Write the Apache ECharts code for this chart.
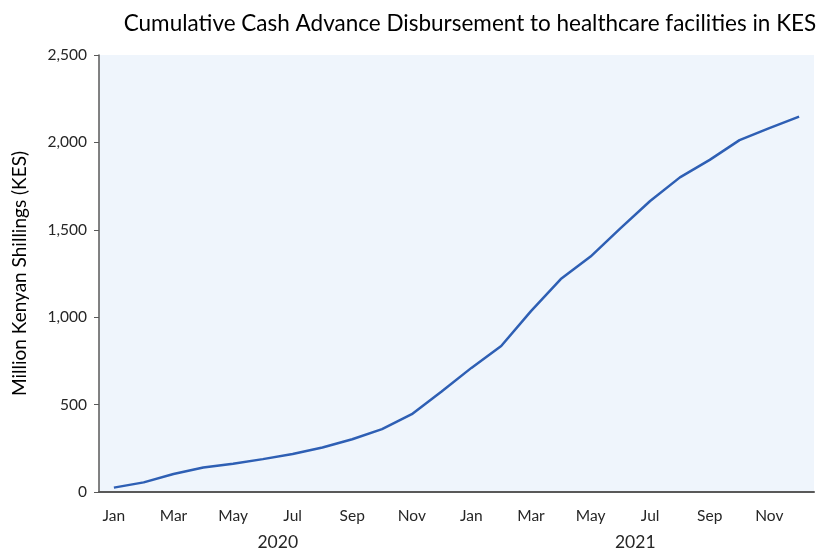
<!DOCTYPE html>
<html>
<head>
<meta charset="utf-8">
<script src="https://cdn.jsdelivr.net/npm/echarts@6/dist/echarts.min.js"></script>
<style>
  html, body { margin: 0; padding: 0; background: #fff; }
  #chart { width: 829px; height: 551px; }
</style>
</head>
<body>
<div id="chart"></div>
<script>
var months = ['Jan', 'Feb', 'Mar', 'Apr', 'May', 'Jun', 'Jul', 'Aug', 'Sep', 'Oct', 'Nov', 'Dec',
              'Jan', 'Feb', 'Mar', 'Apr', 'May', 'Jun', 'Jul', 'Aug', 'Sep', 'Oct', 'Nov', 'Dec'];
var years = ['2020', '2021'];
// cumulative disbursement, million KES
var cumulative = [25, 55, 103, 140, 162, 188, 217, 255, 302, 360, 445, 575,
                  710, 835, 1035, 1218, 1347, 1508, 1665, 1800, 1900, 2013, 2082, 2147];
var yTicks = [0, 500, 1000, 1500, 2000, 2500];

var chart = echarts.init(document.getElementById('chart'));
var fontFam = 'Lato, "Open Sans", sans-serif';

var option = {
    backgroundColor: '#fff',
    animation: false,
    title: {
        text: 'Cumulative Cash Advance Disbursement to healthcare facilities in KES',
        left: 465,
        top: 7,
        textAlign: 'center',
        textStyle: { fontFamily: fontFam, fontSize: 22.5, fontWeight: 'normal', color: '#000' }
    },
    grid: {
        left: 99, right: 15, top: 55, bottom: 58,
        show: true,
        backgroundColor: '#eff5fc',
        borderWidth: 0
    },
    xAxis: [{
        type: 'category',
        data: months,
        boundaryGap: true,
        axisLine: { show: true, lineStyle: { color: '#595959', width: 2 } },
        axisTick: { show: false },
        axisLabel: {
            interval: 1,
            margin: 16,
            fontFamily: fontFam, fontSize: 15.5, color: '#262626'
        },
        splitLine: { show: false }
    }, {
        type: 'category',
        data: years,
        position: 'bottom',
        boundaryGap: true,
        axisLine: { show: false },
        axisTick: { show: false },
        axisLabel: {
            margin: 41,
            fontFamily: fontFam, fontSize: 17.5, color: '#262626'
        },
        splitLine: { show: false }
    }],
    yAxis: {
        type: 'value',
        min: yTicks[0],
        max: yTicks[yTicks.length - 1],
        interval: 500,
        name: 'Million Kenyan Shillings (KES)',
        nameLocation: 'middle',
        nameGap: 70,
        nameTextStyle: { fontFamily: fontFam, fontSize: 19, color: '#000' },
        axisLine: { show: true, lineStyle: { color: '#595959', width: 1.5 } },
        axisTick: { show: true, length: 5, lineStyle: { color: '#595959' } },
        axisLabel: {
            margin: 12,
            fontFamily: fontFam, fontSize: 15.5, color: '#262626',
            formatter: function (v) { return v.toLocaleString('en-US'); }
        },
        splitLine: { show: false }
    },
    series: [{
        type: 'line',
        xAxisIndex: 0,
        data: cumulative,
        showSymbol: false,
        symbol: 'none',
        lineStyle: { color: '#2e5fb4', width: 2.5 }
    }]
};
chart.setOption(option);
</script>
</body>
</html>
